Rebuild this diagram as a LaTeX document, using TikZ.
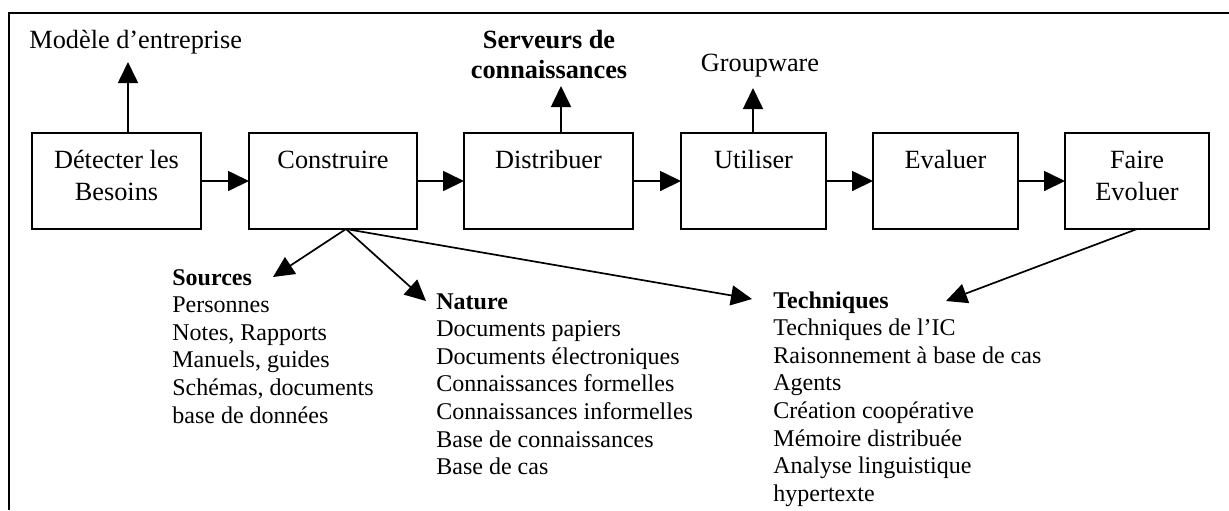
\documentclass[tikz,border=0pt]{standalone}
\usepackage{fontspec}
\setmainfont{Liberation Serif}
\usetikzlibrary{arrows.meta}
\tikzset{
  stagebox/.style={draw, line width=0.85pt, minimum height=48pt, inner sep=0pt, outer sep=0pt},
  stagetext/.style={anchor=base, align=center, inner sep=0pt, font=\fontsize{13.15}{16}\selectfont},
  toplabel/.style={anchor=base, align=center, inner sep=0pt, font=\fontsize{13.15}{15}\selectfont},
  toplabelbold/.style={toplabel, font=\fontsize{13.15}{15}\selectfont\bfseries},
  listtext/.style={anchor=base west, align=left, inner sep=0pt, font=\fontsize{12}{13.8}\selectfont},
  flow/.style={line width=0.85pt, -{Triangle[length=10.5pt,width=10pt]}},
  frame/.style={line width=0.9pt},
}
\begin{document}
\begin{tikzpicture}[x=0.5pt, y=-0.5pt]
\useasboundingbox (0,0) rectangle (1229,510);
% outer frame (top and left sides)
\draw[frame] (9,510) -- (9,13) -- (1229,13);

% process stages
\node[stagebox, minimum width=84.5pt] (b1) at (116.5,181) {};
\node[stagebox, minimum width=84pt]   (b2) at (333,181) {};
\node[stagebox, minimum width=84.5pt] (b3) at (548.5,181) {};
\node[stagebox, minimum width=72.5pt] (b4) at (753.5,181) {};
\node[stagebox, minimum width=72.5pt] (b5) at (945.5,181) {};
\node[stagebox, minimum width=72pt]   (b6) at (1137,181) {};

% stage names (a multi-line node sits on the baseline of its last line)
\node[stagetext] (t1) at ([yshift=-33.5pt]b1.north) {Détecter les\\Besoins};
\node[stagetext] (t2) at ([yshift=-17.5pt]b2.north) {Construire};
\node[stagetext] (t3) at ([yshift=-17.5pt]b3.north) {Distribuer};
\node[stagetext] (t4) at ([yshift=-17.5pt]b4.north) {Utiliser};
\node[stagetext] (t5) at ([yshift=-17.5pt]b5.north) {Evaluer};
\node[stagetext] (t6) at ([yshift=-33.5pt]b6.north) {Faire\\Evoluer};

% chain of stages
\draw[flow] (b1) -- (b2);
\draw[flow] (b2) -- (b3);
\draw[flow] (b3) -- (b4);
\draw[flow] (b4) -- (b5);
\draw[flow] (b5) -- (b6);

% outputs above the stages
\node[toplabel, anchor=base west] (modele) at (29,48) {Modèle d’entreprise};
\node[toplabelbold] (serveurs) at (549,78) {Serveurs de\\connaissances};
\node[toplabel] (groupware) at (760,71) {Groupware};

\coordinate (u1) at (128,62);
\coordinate (u3) at (561,86);
\coordinate (u4) at (753,88);
\draw[flow] (u1 |- b1.north) -- (u1);
\draw[flow] (u3 |- b3.north) -- (u3);
\draw[flow] (u4 |- b4.north) -- (u4);

% detail lists below
\node[listtext] (sources) at (172,423) {\textbf{Sources}\\Personnes\\Notes, Rapports\\Manuels, guides\\Schémas, documents\\base de données};
\node[listtext] (nature) at (436,474.6) {\textbf{Nature}\\Documents papiers\\Documents électroniques\\Connaissances formelles\\Connaissances informelles\\Base de connaissances\\Base de cas};
\node[listtext] (techniques) at (773,501.2) {\textbf{Techniques}\\Techniques de l’IC\\Raisonnement à base de cas\\Agents\\Création coopérative\\Mémoire distribuée\\Analyse linguistique\\hypertexte};

\coordinate (c2) at ([xshift=6.5pt]b2.south);
\coordinate (dsrc) at (273,277);
\coordinate (dnat) at (426,301);
\coordinate (dtec) at (752,299);
\coordinate (dtec6) at (946,301);
\draw[flow] (c2) -- (dsrc);
\draw[flow] (c2) -- (dnat);
\draw[flow] (c2) -- (dtec);
\draw[flow] (b6.south) -- (dtec6);
\end{tikzpicture}
\end{document}
